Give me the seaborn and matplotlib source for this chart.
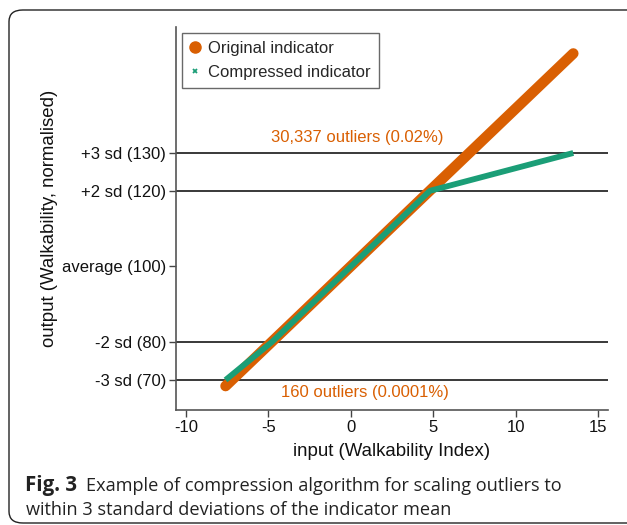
import numpy as np
import pandas as pd
import matplotlib
matplotlib.use("Agg")
import matplotlib.pyplot as plt
import seaborn as sns
from matplotlib.lines import Line2D
from matplotlib.patches import FancyBboxPatch

# ---- data ----
orig_x = [-7.6, 13.5]
orig_y = [68.4, 156.3]
comp_x = [-7.6, -4.8, 4.8, 13.5]
comp_y = [70.0, 80.0, 120.0, 130.0]
ref_vals = [70, 80, 100, 120, 130]
ref_labels = ["-3 sd (70)", "-2 sd (80)", "average (100)", "+2 sd (120)", "+3 sd (130)"]
hline_vals = [70, 80, 120, 130]
x_ticks = [-10, -5, 0, 5, 10, 15]
x_tick_labels = ["-10", "-5", "0", "5", "10", "15"]
series_names = ["Original indicator", "Compressed indicator"]
note_top = "30,337 outliers (0.02%)"
note_bottom = "160 outliers (0.0001%)"

ORANGE = "#D95F02"
GREEN = "#1B9E77"

sns.set_theme(style="white")
plt.rcParams["font.family"] = ["Liberation Sans", "DejaVu Sans"]

W, H = 627, 525
fig = plt.figure(figsize=(W / 100, H / 100), dpi=100)
ax = fig.add_axes([176 / W, 1 - 410 / H, (608 - 176) / W, (410 - 27) / H])

# rounded frame
frame = FancyBboxPatch((9 / W, 1 - 523 / H), (660 - 9) / W, (523 - 10) / H,
                       boxstyle="round,pad=0,rounding_size=0.022",
                       transform=fig.transFigure, fill=False,
                       edgecolor="#222222", linewidth=1.0, clip_on=False)
fig.patches.append(frame)

df_o = pd.DataFrame({"x": orig_x, "y": orig_y})
df_c = pd.DataFrame({"x": comp_x, "y": comp_y})

for v in hline_vals:
    ax.axhline(v, color="#2a2a2a", lw=1.3, zorder=1)

sns.lineplot(data=df_o, x="x", y="y", ax=ax, color=ORANGE, lw=7.6,
             solid_capstyle="round", solid_joinstyle="round", sort=False, zorder=3)
sns.lineplot(data=df_c, x="x", y="y", ax=ax, color=GREEN, lw=4.2,
             solid_capstyle="butt", solid_joinstyle="round", sort=False, zorder=4)

ax.set_xlim(-10.607, 15.607)
ax.set_ylim(62.07, 163.3)
ax.set_xticks(x_ticks)
ax.set_xticklabels(x_tick_labels)
ax.set_yticks(ref_vals)
ax.set_yticklabels(ref_labels)
ax.tick_params(axis="both", which="both", direction="out", length=5, width=1,
               color="#444444", labelsize=12, labelcolor="#111111", pad=2,
               left=True, bottom=True)
for s in ["top", "right"]:
    ax.spines[s].set_visible(False)
for s in ["left", "bottom"]:
    ax.spines[s].set_color("#555555")
    ax.spines[s].set_linewidth(1.2)

ax.set_xlabel("input (Walkability Index)", fontsize=13.4, color="#111111", labelpad=6)
ax.set_ylabel("output (Walkability, normalised)", fontsize=13.4, color="#111111", labelpad=3)

ax.text(0.42, 134.2, note_top, color=ORANGE, fontsize=12, ha="center", va="center")
ax.text(0.85, 66.8, note_bottom, color=ORANGE, fontsize=12, ha="center", va="center")

handles = [Line2D([], [], color=ORANGE, marker="o", lw=0, markersize=8),
           Line2D([], [], color=GREEN, marker="x", lw=0, markersize=3.5, markeredgewidth=1.3)]
leg = ax.legend(handles, series_names, loc="upper left", bbox_to_anchor=(6 / 432, 1 - 5.7 / 383),
                frameon=True, fancybox=False, fontsize=12, handlelength=0.6,
                handletextpad=0.5, borderpad=0.48, labelspacing=0.55, borderaxespad=0)
leg.get_frame().set_edgecolor("#444444")
leg.get_frame().set_linewidth(1.0)

# caption
cap_font = ["Open Sans", "DejaVu Sans"]
t1 = fig.text(25 / W, 1 - 491 / H, "Fig. 3", fontsize=14.8, fontweight="bold",
              family=cap_font, color="#222222", va="baseline", ha="left")
fig.canvas.draw()
bb = t1.get_window_extent()
fig.text((bb.x1 + 9) / W, 1 - 491 / H,
         "Example of compression algorithm for scaling outliers to",
         fontsize=13.1, family=cap_font, color="#222222", va="baseline", ha="left")
fig.text(26 / W, 1 - 515 / H, "within 3 standard deviations of the indicator mean",
         fontsize=13.1, family=cap_font, color="#222222", va="baseline", ha="left")

fig.savefig("out.png", dpi=100)
